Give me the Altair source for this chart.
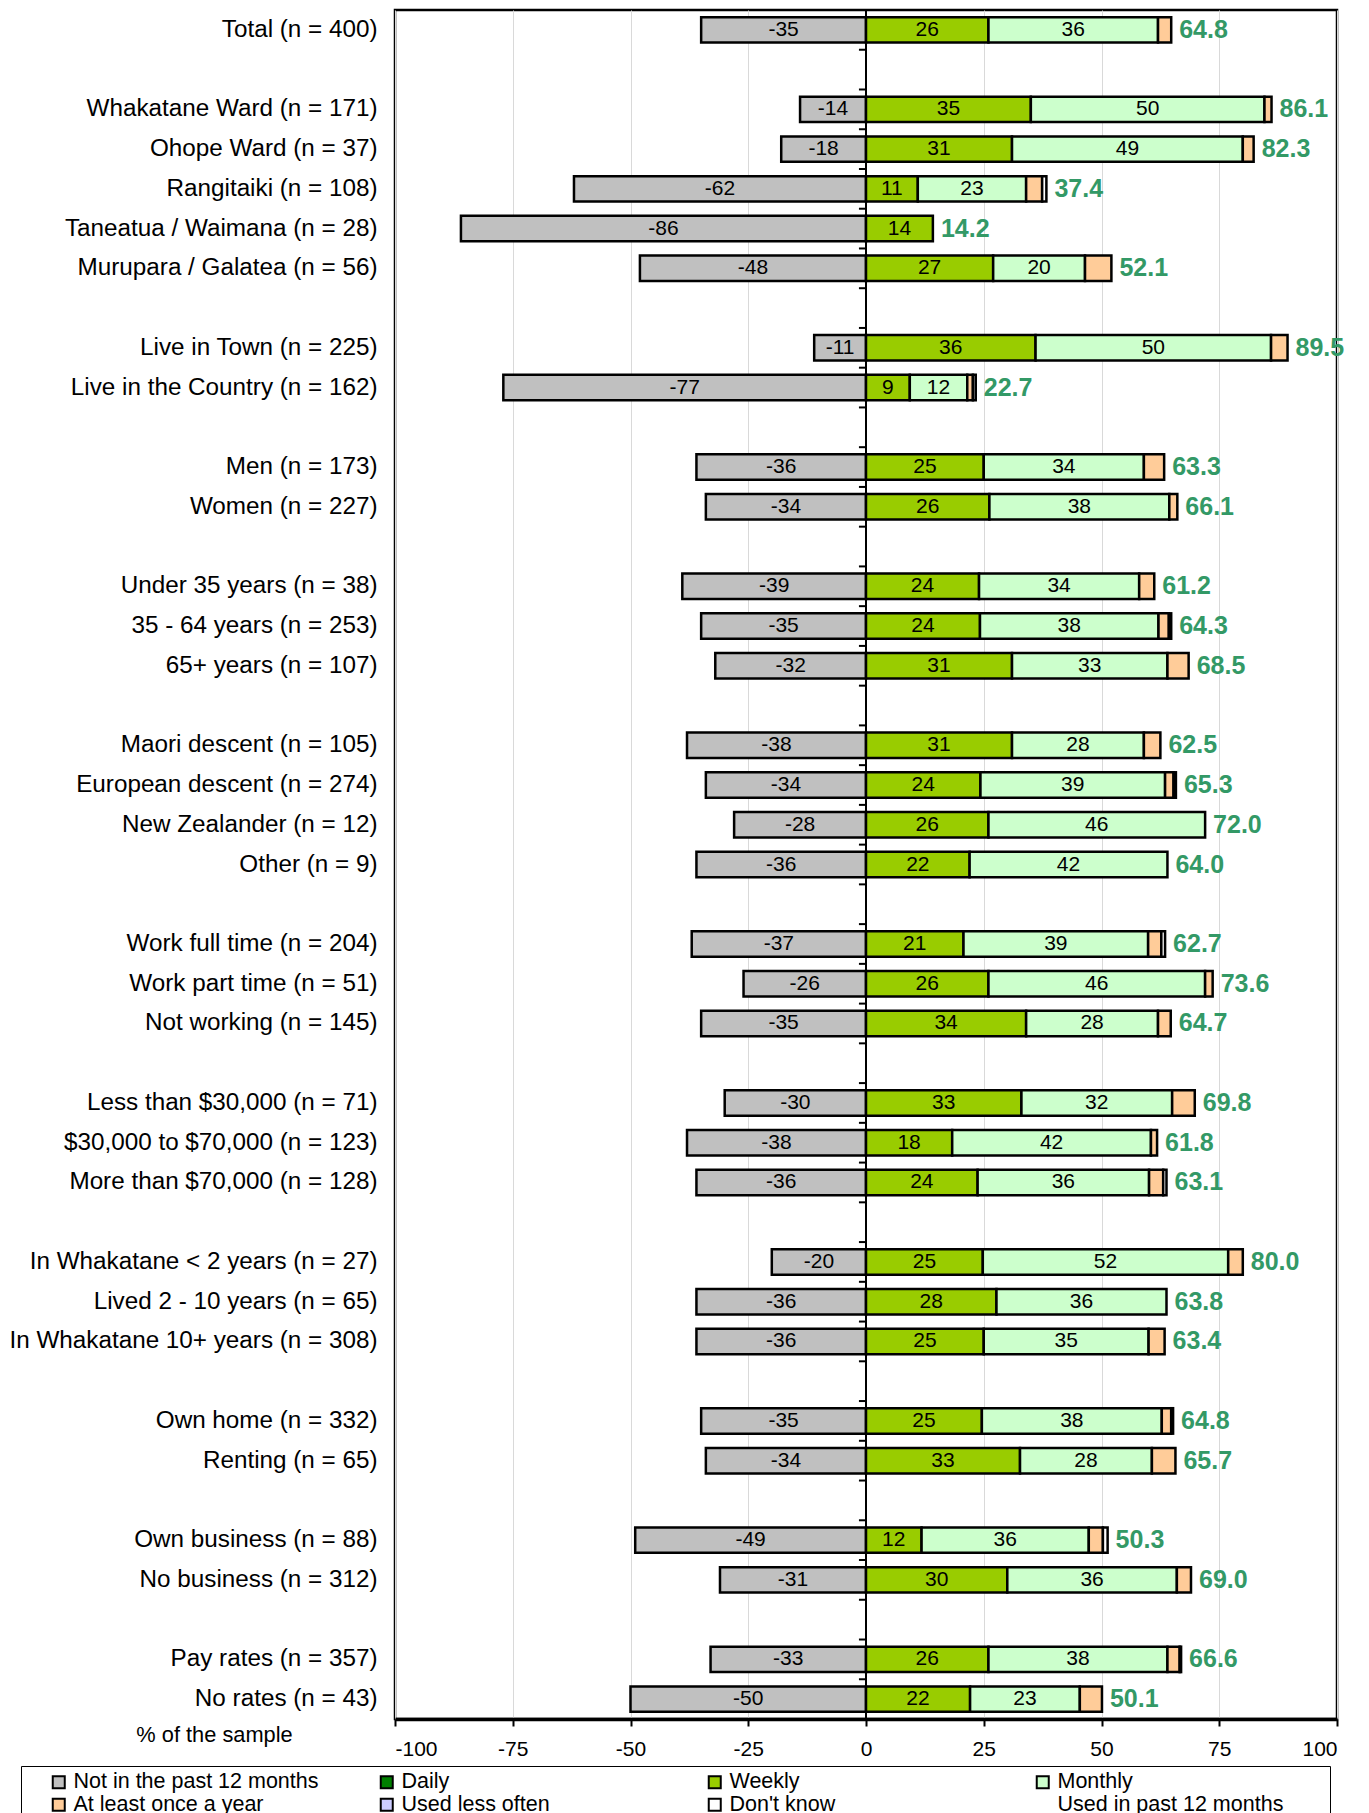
import altair as alt
import pandas as pd

FONT = "Liberation Sans"

slots = ["Total (n = 400)", "",
         "Whakatane Ward (n = 171)", "Ohope Ward (n = 37)", "Rangitaiki (n = 108)",
         "Taneatua / Waimana (n = 28)", "Murupara / Galatea (n = 56)", "",
         "Live in Town (n = 225)", "Live in the Country (n = 162)", "",
         "Men (n = 173)", "Women (n = 227)", "",
         "Under 35 years (n = 38)", "35 - 64 years (n = 253)", "65+ years (n = 107)", "",
         "Maori descent (n = 105)", "European descent (n = 274)", "New Zealander (n = 12)", "Other (n = 9)", "",
         "Work full time (n = 204)", "Work part time (n = 51)", "Not working (n = 145)", "",
         "Less than $30,000 (n = 71)", "$30,000 to $70,000 (n = 123)", "More than $70,000 (n = 128)", "",
         "In Whakatane < 2 years (n = 27)", "Lived 2 - 10 years (n = 65)", "In Whakatane 10+ years (n = 308)", "",
         "Own home (n = 332)", "Renting (n = 65)", "",
         "Own business (n = 88)", "No business (n = 312)", "",
         "Pay rates (n = 357)", "No rates (n = 43)"]

not_used = [35, 14, 18, 62, 86, 48, 11, 77, 36, 34, 39, 35, 32, 38, 34, 28, 36,
            37, 26, 35, 30, 38, 36, 20, 36, 36, 35, 34, 49, 31, 33, 50]
weekly = [26, 35, 31, 11, 14.2, 27, 36, 9.3, 25, 26.2, 24, 24.2, 31, 31, 24.3, 26, 22,
          20.7, 26, 34, 33, 18.3, 23.7, 24.8, 27.7, 25, 24.6, 32.7, 11.8, 30, 26, 22.1]
monthly = [36, 49.6, 49, 23, 0, 19.5, 50, 12.2, 34, 38.2, 34, 37.9, 33, 28, 39.2, 46, 42,
           39.2, 46, 28, 32, 42.2, 36.4, 52.1, 36.1, 35, 38.2, 28, 35.5, 36, 38, 23.3]
yearly = [2.8, 1.5, 2.3, 3.4, 0, 5.6, 3.5, 1.2, 4.3, 1.7, 3.2, 2.2, 4.5, 3.5, 1.8, 0, 0,
          2.8, 1.6, 2.7, 4.8, 1.3, 3.0, 3.1, 0, 3.4, 2.0, 5.0, 3.0, 3.0, 2.6, 4.7]
dont_know = [0, 0, 0, 0.9, 0, 0, 0, 0.6, 0, 0, 0, 0.5, 0, 0, 0.5, 0, 0,
             0.8, 0, 0, 0, 0, 0.7, 0, 0, 0, 0.4, 0, 1.0, 0, 0.3, 0]
total_used = [64.8, 86.1, 82.3, 37.4, 14.2, 52.1, 89.5, 22.7, 63.3, 66.1, 61.2, 64.3, 68.5,
              62.5, 65.3, 72.0, 64.0, 62.7, 73.6, 64.7, 69.8, 61.8, 63.1, 80.0, 63.8, 63.4,
              64.8, 65.7, 50.3, 69.0, 66.6, 50.1]

series_names = ["Not in the past 12 months", "Daily", "Weekly", "Monthly",
                "At least once a year", "Used less often", "Don't know", "Used in past 12 months"]
series_fill = ["#C0C0C0", "#008000", "#99CC00", "#CCFFCC", "#FFCC99", "#CCCCFF", "#FFFFFF", "transparent"]
series_stroke = ["black"] * 7 + ["transparent"]

# unique blank names for spacer rows
slot_names = []
k = 0
for s in slots:
    if s == "":
        k += 1
        slot_names.append(" " * k)
    else:
        slot_names.append(s)
categories = [s for s in slots if s]

seg_rows = []
lab_rows = []
tot_rows = []
for i, cat in enumerate(categories):
    n, w, m, yv, d = not_used[i], weekly[i], monthly[i], yearly[i], dont_know[i]
    parts = [("Not in the past 12 months", -n, 0, f"-{n}"),
             ("Weekly", 0, w, str(round(w))),
             ("Monthly", w, w + m, str(round(m))),
             ("At least once a year", w + m, w + m + yv, None),
             ("Don't know", w + m + yv, w + m + yv + d, None)]
    for name, a, b, lab in parts:
        if b - a <= 0:
            continue
        seg_rows.append({"row": cat, "series": name, "x0": a, "x1": b})
        if lab is not None:
            lab_rows.append({"row": cat, "mid": (a + b) / 2, "label": lab})
    tot_rows.append({"row": cat, "end": w + m + yv + d, "label": f"{total_used[i]:.1f}"})

seg = pd.DataFrame(seg_rows)
labs = pd.DataFrame(lab_rows)
tots = pd.DataFrame(tot_rows)
ticks_df = pd.DataFrame({"row": slot_names})

H = 1709
STEP = H / len(slot_names)

y_enc = alt.Y("row:N",
              scale=alt.Scale(domain=slot_names, paddingInner=0.36, paddingOuter=0.18),
              axis=alt.Axis(title=None, labelFontSize=24.25, labelFont=FONT, labelColor="black",
                            labelPadding=18, ticks=False, domain=False, labelLimit=0))

x_scale = alt.Scale(domain=[-100, 100], nice=False)
x_axis = alt.Axis(values=[-100, -75, -50, -25, 0, 25, 50, 75, 100],
                  labelExpr="'' + datum.value",
                  title="% of the sample", grid=True)

legend = alt.Legend(title=" ", titleOrient="right", titlePadding=42,
                    orient="none", legendX=-374, legendY=1756,
                    direction="horizontal", columns=4, gridAlign="all",
                    columnPadding=35, symbolOffset=22, symbolType="square",
                    symbolSize=144, symbolStrokeWidth=2, labelFontSize=21.5,
                    labelFont=FONT, labelColor="black", strokeColor="black",
                    padding=5, rowPadding=0, labelOffset=4, labelLimit=0)

bars = alt.Chart(seg).mark_bar(strokeWidth=2.5).encode(
    x=alt.X("x0:Q", scale=x_scale, axis=x_axis),
    x2="x1:Q",
    y=y_enc,
    fill=alt.Fill("series:N", scale=alt.Scale(domain=series_names, range=series_fill), legend=legend),
    stroke=alt.Stroke("series:N", scale=alt.Scale(domain=series_names, range=series_stroke), legend=legend),
)

zero = alt.Chart(pd.DataFrame({"z": [0]})).mark_rule(color="black", strokeWidth=2).encode(
    x=alt.X("z:Q", scale=x_scale, axis=x_axis))

cat_ticks = alt.Chart(ticks_df).mark_rule(color="black", strokeWidth=2, yOffset=-STEP / 2).encode(
    x=alt.datum(-1.5), x2=alt.datum(0), y=y_enc)

seg_text = alt.Chart(labs).mark_text(font=FONT, fontSize=21, color="black", baseline="middle").encode(
    x=alt.X("mid:Q", scale=x_scale, axis=x_axis), y=y_enc, text="label:N")

tot_text = alt.Chart(tots).mark_text(font=FONT, fontSize=25, fontWeight="bold", color="#339966",
                                     align="left", baseline="middle", dx=8).encode(
    x=alt.X("end:Q", scale=x_scale, axis=x_axis), y=y_enc, text="label:N")

chart = alt.layer(bars, zero, cat_ticks, seg_text, tot_text).properties(
    width=942, height=H,
    padding={"left": 0, "top": 0, "right": 5, "bottom": 0},
).configure_view(
    stroke="black", strokeWidth=2.5
).configure_axisX(
    gridColor="#D9D9D9", gridWidth=1, domainColor="black", domainWidth=3.5,
    tickColor="black", tickWidth=2, tickSize=7, labelFontSize=21, labelFont=FONT,
    labelColor="black", labelPadding=12, titleFontSize=21.8, titleFont=FONT,
    titleFontWeight="normal", titleColor="black", titleX=-181, titleY=15,
    titleBaseline="middle", titleAlign="center"
)

chart.save("out.html", embed_options={"renderer": "svg", "actions": False})
